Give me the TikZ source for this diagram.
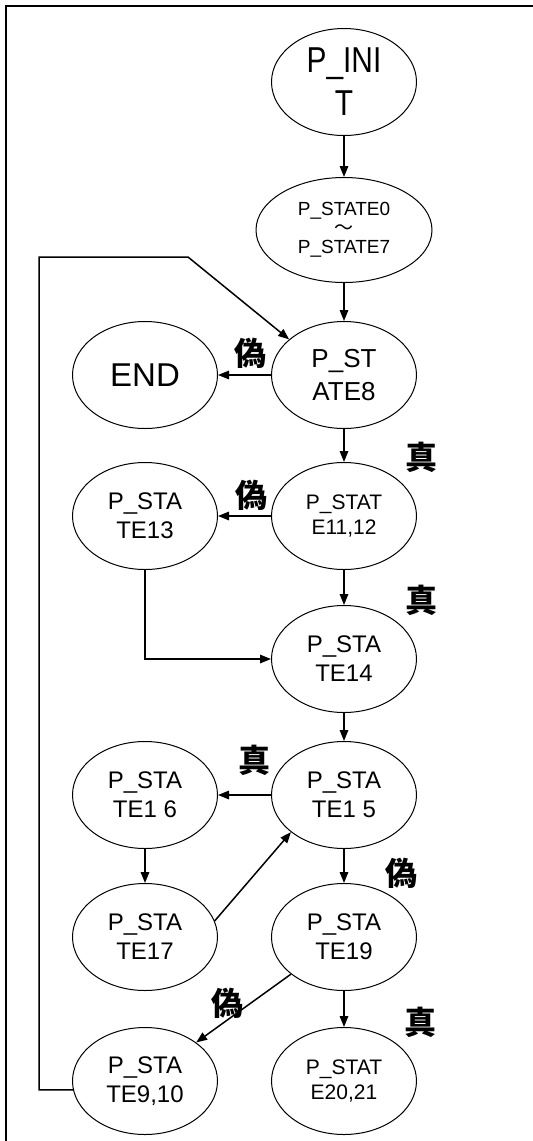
\documentclass[tikz,border=0pt]{standalone}
\usepackage{fontspec}
\setmainfont{Liberation Sans}
\newfontfamily\narrowsans[FakeStretch=0.83]{Liberation Sans}
\newfontfamily\cjk{Noto Sans CJK JP}
\usetikzlibrary{shapes.geometric,arrows.meta}
\tikzset{
  st/.style={draw, ellipse, line width=1pt, minimum width=145pt, minimum height=107pt, inner sep=0pt, align=center},
  fA/.style={font=\fontsize{26}{33}\selectfont},
  fB/.style={font=\fontsize{24}{29}\selectfont},
  fC/.style={font=\fontsize{21}{25}\selectfont},
  fD/.style={font=\fontsize{19}{19}\selectfont},
  fE/.style={font=\fontsize{33}{35}\selectfont},
  fI/.style={font=\narrowsans\fontsize{36}{43}\selectfont},
  lbl/.style={font=\cjk\bfseries\fontsize{32}{32}\selectfont, inner sep=0pt},
  arr/.style={-{Triangle[length=11pt,width=8.5pt]}, line width=1.5pt},
}
\begin{document}
\begin{tikzpicture}[x=1pt,y=-1pt]
\useasboundingbox (0,0) rectangle (533,1141);
% frame
\draw[line width=2pt] (6,1141) -- (6,6) -- (533,6);
% nodes
\node[st,fI] (init) at (344,82) {P\_INI\\T};
\node[st,fD,minimum width=176pt,minimum height=105pt] (s0) at (344,230) {P\_STATE0\\{\cjk 〜}\\P\_STATE7};
\node[st,fA] (s8) at (344,375) {P\_ST\\ATE8};
\node[st,fE] (end) at (145,375) {END};
\node[st,fC] (s11) at (344,516) {P\_STAT\\E11,12};
\node[st,fB] (s13) at (145,516) {P\_STA\\TE13};
\node[st,fB] (s14) at (344,659) {P\_STA\\TE14};
\node[st,fB] (s15) at (344,795) {P\_STA\\TE1 5};
\node[st,fB] (s16) at (145,795) {P\_STA\\TE1 6};
\node[st,fB] (s17) at (145,937) {P\_STA\\TE17};
\node[st,fB] (s19) at (344,937) {P\_STA\\TE19};
\node[st,fB] (s9) at (145,1081) {P\_STA\\TE9,10};
\node[st,fC] (s20) at (344,1081) {P\_STAT\\E20,21};
% labels
\node[lbl] (l1) at (250,353) {偽};
\node[lbl] (l2) at (421,457) {真};
\node[lbl] (l3) at (251,495) {偽};
\node[lbl] (l4) at (421,600) {真};
\node[lbl] (l5) at (254,760) {真};
\node[lbl] (l6) at (401,873) {偽};
\node[lbl] (l7) at (227,1003) {偽};
\node[lbl] (l8) at (420,1022) {真};
% connectors
\draw[arr] (init.south) -- (s0.north);
\draw[arr] (s0.south) -- (s8.north);
\draw[arr] (s8.west) -- (end.east);
\draw[arr] (s8.south) -- (s11.north);
\draw[arr] (s11.west) -- (s13.east);
\draw[arr] (s11.south) -- (s14.north);
\draw[arr] (s13.south) |- (s14.west);
\draw[arr] (s14.south) -- (s15.north);
\draw[arr] (s15.west) -- (s16.east);
\draw[arr] (s16.south) -- (s17.north);
\draw[arr] (s17.13) -- (s15.215);
\draw[arr] (s15.south) -- (s19.north);
\draw[arr] (s19.215) -- (s9.37);
\draw[arr] (s19.south) -- (s20.north);
\coordinate (lpA) at (39,257);
\coordinate (lpB) at (188,257);
\draw[arr] (s9.187) -- (s9.187 -| lpA) -- (lpA) -- (lpB) -- (s8.147);
\end{tikzpicture}
\end{document}
